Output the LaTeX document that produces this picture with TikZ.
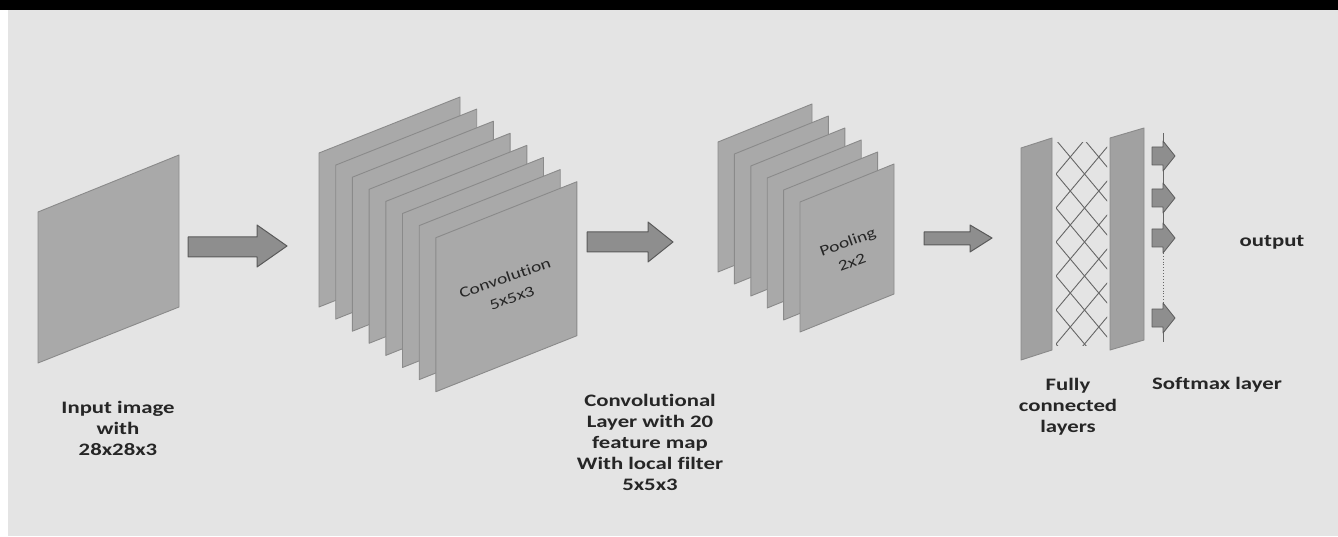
\documentclass[tikz,border=0pt]{standalone}
\usepackage{fontspec}
\newfontfamily\lab[FakeStretch=1.3,Ligatures=NoCommon]{Carlito}
\definecolor{bg}{HTML}{E4E4E4}
\definecolor{sheetfill}{HTML}{A9A9A9}
\definecolor{sheetedge}{HTML}{8A8A8A}
\definecolor{arrowfill}{HTML}{8E8E8E}
\definecolor{arrowedge}{HTML}{5A5A5A}
\definecolor{txt}{HTML}{262626}
\begin{document}
\begin{tikzpicture}[x=1pt,y=-1pt,
  sheet/.style={fill=sheetfill,draw=sheetedge,line width=0.9pt,line join=round},
  bigarrow/.style={fill=arrowfill,draw=arrowedge,line width=1pt,line join=round},
  smarrow/.style={fill=arrowfill,draw=arrowedge,line width=0.8pt,line join=round},
  mesh/.style={draw=black!60,line width=0.9pt},
  label/.style={font=\lab\bfseries\fontsize{17.5}{21}\selectfont,text=txt,align=center,inner sep=0pt},
  inlabel/.style={font=\lab\fontsize{15}{15}\selectfont,text=black!85,inner sep=0pt}]
% background
\fill[white] (0,0) rectangle (1338,537);
\fill[bg] (8,10) rectangle (1338,536);
\fill[black] (0,0) rectangle (1338,10);
\useasboundingbox (0,0) rectangle (1338,537);
% input image
\draw[sheet] (38,212) -- (179,155) -- (179,307) -- (38,363) -- cycle;
% arrow 1
\draw[bigarrow] (188,237) -- (257,237) -- (257,225) -- (287,246) -- (257,267) -- (257,257) -- (188,257) -- cycle;
% convolution stack
\foreach \i in {0,...,7}{
  \pgfmathsetmacro{\lx}{319+16.7*\i}
  \pgfmathsetmacro{\ty}{153+12.1*\i}
  \draw[sheet] (\lx,\ty) -- ++(141,-56) -- ++(0,154) -- ++(-141,56) -- cycle;
}
\node[inlabel,rotate=19] (convtxt1) at (505,278) {Convolution};
\node[inlabel,rotate=19] (convtxt2) at (512,298) {5x5x3};
% arrow 2
\draw[bigarrow] (587,232) -- (648,232) -- (648,222) -- (673,242) -- (648,262) -- (648,252) -- (587,252) -- cycle;
% pooling stack
\foreach \i in {0,...,5}{
  \pgfmathsetmacro{\lx}{718+16.4*\i}
  \pgfmathsetmacro{\ty}{142+12*\i}
  \draw[sheet] (\lx,\ty) -- ++(94,-38) -- ++(0,130) -- ++(-94,38) -- cycle;
}
\node[inlabel,rotate=20] (pooltxt1) at (848,243) {Pooling};
\node[inlabel,rotate=20] (pooltxt2) at (852,262) {2x2};
% arrow 3
\draw[bigarrow] (924,232) -- (970,232) -- (970,225) -- (992,238) -- (970,252) -- (970,245) -- (924,245) -- cycle;
% fully connected
\draw[sheet,fill=black!37] (1021,148) -- (1052,138) -- (1052,350) -- (1021,360) -- cycle;
\begin{scope}
  \clip (1056,143) rectangle (1107,345);
  \foreach \k in {-3,...,8}{
    \draw[mesh] (1056,{140+34*\k}) -- ++(52,62);
    \draw[mesh] (1056,{140+34*\k}) -- ++(52,-62);
  }
\end{scope}
\draw[sheet,fill=black!37] (1110,138) -- (1144,128) -- (1144,340) -- (1110,350) -- cycle;
% softmax outputs
\draw[black!60,line width=0.7pt] (1163,133) -- (1163,250);
\draw[black!60,line width=0.9pt,dotted] (1163,250) -- (1163,310);
\draw[black!60,line width=0.7pt] (1163,310) -- (1163,342);
\foreach \c in {156,198,238,318}{
  \draw[smarrow] (1152,{\c-9}) -- (1163,{\c-9}) -- (1163,{\c-15}) -- (1175,\c) -- (1163,{\c+15}) -- (1163,{\c+9}) -- (1152,{\c+9}) -- cycle;
}
% labels
\node[label] (inlab) at (118,428) {Input image\\with\\28x28x3};
\node[label] (convlab) at (650,442) {Convolutional\\Layer with 20\\feature map\\With local filter\\5x5x3};
\node[label] (fclab) at (1068,407) {Fully\\connected\\layers};
\node[label] (smlab) at (1217,385) {Softmax layer};
\node[label] (outlab) at (1272,242) {output};
\end{tikzpicture}
\end{document}
